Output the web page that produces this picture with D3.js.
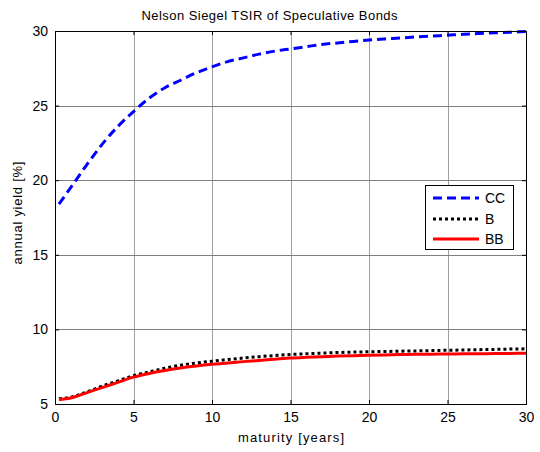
<!DOCTYPE html>
<html><head><meta charset="utf-8">
<script src="https://cdn.jsdelivr.net/npm/d3@7"></script>
<style>body{margin:0;background:#fff}svg{display:block}text{font-family:"Liberation Sans",Arial,sans-serif}</style>
</head><body><div id="chart"></div>
<script>
const maturities = [0.25,1,2,3,4,5,6,7,8,9,10,11,12,13,14,15,16,17,18,19,20,21,22,23,24,25,26,27,28,29,30];
const ccYield = [18.4,19.5,21.0,22.4,23.6,24.6,25.5,26.2,26.7,27.2,27.6,27.95,28.2,28.45,28.65,28.8,28.95,29.1,29.2,29.3,29.4,29.47,29.53,29.6,29.66,29.72,29.78,29.83,29.88,29.92,29.96];
const bYield = [5.35,5.45,5.8,6.2,6.55,6.9,7.15,7.4,7.6,7.75,7.87,7.98,8.08,8.17,8.25,8.32,8.37,8.41,8.45,8.48,8.5,8.52,8.54,8.56,8.58,8.6,8.62,8.64,8.66,8.68,8.7];
const bbYield = [5.3,5.4,5.75,6.1,6.45,6.8,7.05,7.25,7.42,7.55,7.66,7.75,7.84,7.92,8.0,8.08,8.13,8.17,8.21,8.24,8.27,8.29,8.31,8.33,8.34,8.35,8.36,8.37,8.38,8.39,8.4];
const xTicks = [0,5,10,15,20,25,30];
const yTicks = [5,10,15,20,25,30];
const seriesNames = ["CC","B","BB"];

const W=540,H=452;
const L=55,R=526,T=31,B=404;
const svg=d3.select("#chart").append("svg").attr("width",W).attr("height",H);
const x=d3.scaleLinear().domain([0,30]).range([L,R]);
const y=d3.scaleLinear().domain([5,30]).range([B,T]);

// grid
const g=svg.append("g");
g.selectAll(".vg").data(xTicks.slice(1,-1)).enter().append("line")
 .attr("x1",d=>Math.round(x(d))+0.5).attr("x2",d=>Math.round(x(d))+0.5).attr("y1",T).attr("y2",B)
 .attr("stroke","#a0a0a0").attr("stroke-width",1);
g.selectAll(".hg").data(yTicks.slice(1,-1)).enter().append("line")
 .attr("y1",d=>Math.round(y(d))+0.5).attr("y2",d=>Math.round(y(d))+0.5).attr("x1",L).attr("x2",R)
 .attr("stroke","#808080").attr("stroke-width",1);

// axes
const xAxB=d3.axisBottom(x).tickValues(xTicks).tickSizeInner(-4).tickSizeOuter(0).tickPadding(8);
const xAxT=d3.axisTop(x).tickValues(xTicks).tickSizeInner(-4).tickSizeOuter(0).tickFormat("");
const yAxL=d3.axisLeft(y).tickValues(yTicks).tickSizeInner(-4).tickSizeOuter(0).tickPadding(7);
const yAxR=d3.axisRight(y).tickValues(yTicks).tickSizeInner(-4).tickSizeOuter(0).tickFormat("");
function style(sel){sel.select(".domain").remove();sel.selectAll("line").attr("stroke","#000");sel.selectAll("text").attr("font-size",14).attr("fill","#000").attr("font-family","'Liberation Sans',Arial,sans-serif");}
svg.append("g").attr("transform",`translate(0,${B})`).call(xAxB).call(style);
svg.append("g").attr("transform",`translate(0,${T})`).call(xAxT).call(style);
svg.append("g").attr("transform",`translate(${L},0)`).call(yAxL).call(style);
svg.append("g").attr("transform",`translate(${R},0)`).call(yAxR).call(style);

// lines
const series=[
 {name:"CC",vals:ccYield,color:"#0000ff",dash:"9,5"},
 {name:"B",vals:bYield,color:"#000",dash:"3,3"},
 {name:"BB",vals:bbYield,color:"#ff0000",dash:null}
];
const line=d3.line().x(d=>x(d[0])).y(d=>y(d[1])).curve(d3.curveMonotoneX);
[series[1],series[2],series[0]].forEach(s=>{
 svg.append("path").datum(maturities.map((m,i)=>[m,s.vals[i]]))
  .attr("d",line).attr("fill","none").attr("stroke",s.color).attr("stroke-width",3)
  .attr("stroke-dasharray",s.dash);
});

// box
svg.append("rect").attr("x",L+0.5).attr("y",T+0.5).attr("width",R-L).attr("height",B-T)
 .attr("fill","none").attr("stroke","#000").attr("stroke-width",1);

// legend
const lg=svg.append("g");
lg.append("rect").attr("x",425.5).attr("y",185.5).attr("width",88).attr("height",64).attr("fill","#fff").attr("stroke","#000");
series.forEach((s,i)=>{
 const yy=[198,219,239][i];
 lg.append("line").attr("x1",433).attr("x2",479).attr("y1",yy).attr("y2",yy)
  .attr("stroke",s.color).attr("stroke-width",3).attr("stroke-dasharray",s.dash);
 lg.append("text").attr("x",485).attr("y",yy+5).attr("font-size",14).text(seriesNames[i]);
});

// titles
svg.append("text").attr("x",(L+R)/2-21).attr("y",20).attr("text-anchor","middle").attr("font-size",13)
 .attr("textLength",256).attr("lengthAdjust","spacing").text("Nelson Siegel TSIR of Speculative Bonds");
svg.append("text").attr("x",291).attr("y",442).attr("text-anchor","middle").attr("font-size",13)
 .attr("textLength",106).attr("lengthAdjust","spacing").text("maturity [years]");
svg.append("text").attr("transform",`translate(22,213) rotate(-90)`).attr("text-anchor","middle").attr("font-size",13)
 .attr("textLength",103).attr("lengthAdjust","spacing").text("annual yield [%]");
</script></body></html>
